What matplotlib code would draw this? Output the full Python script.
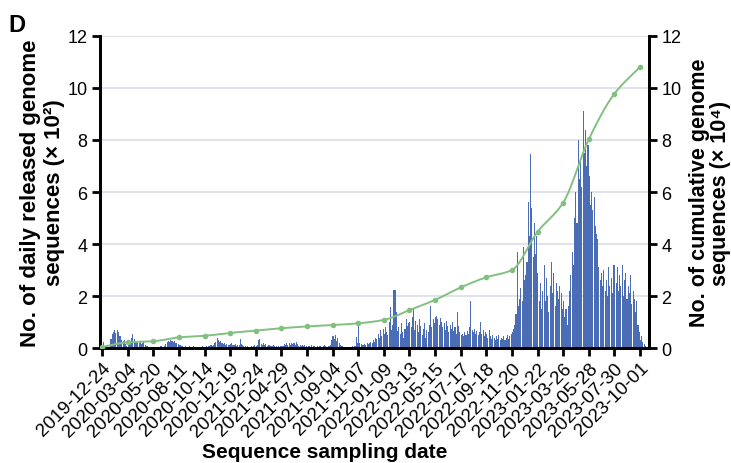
import numpy as np
import matplotlib
matplotlib.use('Agg')
import matplotlib.pyplot as plt

# ---------------- data ----------------
tick_labels = ["2019-12-24", "2020-03-04", "2020-05-20", "2020-08-11", "2020-10-14",
               "2020-12-19", "2021-02-24", "2021-04-29", "2021-07-01", "2021-09-04",
               "2021-11-07", "2022-01-09", "2022-03-13", "2022-05-15", "2022-07-17",
               "2022-09-18", "2022-11-20", "2023-01-22", "2023-03-26", "2023-05-28",
               "2023-07-30", "2023-10-01"]

# cumulative genome sequences (x 10^4) at each labelled date
cumulative_at_ticks = [0.04, 0.22, 0.26, 0.41, 0.47, 0.58, 0.67, 0.76, 0.83, 0.88, 0.95,
                       1.08, 1.46, 1.85, 2.33, 2.72, 3.00, 4.47, 5.59, 8.03, 9.78, 10.81]

# daily released genome sequences (x 10^2), one value per 3-day block
daily_p00 = [0.05, 0.24, 0.03, 0.02, 0.02, 0.05, 0.02, 0.35, 0.55, 0.62, 0.68, 0.58, 0.70, 0.60, 0.45, 0.48, 0.32, 0.28, 0.30, 0.15, 0.08]
daily_p01 = [0.15, 0.30, 0.25, 0.38, 0.52, 0.35, 0.22, 0.28, 0.18, 0.20, 0.25, 0.15, 0.18, 0.22, 0.10, 0.08, 0.06, 0.05, 0.04, 0.05, 0.03]
daily_p02 = [0.03, 0.04, 0.03, 0.05, 0.04, 0.03, 0.06, 0.04, 0.05, 0.08, 0.15, 0.22, 0.28, 0.25, 0.30, 0.26, 0.22, 0.28, 0.20, 0.18, 0.15]
daily_p03 = [0.12, 0.10, 0.08, 0.06, 0.05, 0.08, 0.05, 0.04, 0.06, 0.05, 0.04, 0.05, 0.06, 0.05, 0.04, 0.05, 0.03, 0.04, 0.05, 0.06, 0.05]
daily_p04 = [0.05, 0.06, 0.05, 0.08, 0.06, 0.10, 0.08, 0.12, 0.18, 0.25, 0.38, 0.30, 0.22, 0.28, 0.20, 0.15, 0.18, 0.12, 0.15, 0.10, 0.12]
daily_p05 = [0.15, 0.20, 0.12, 0.10, 0.15, 0.08, 0.10, 0.12, 0.35, 0.15, 0.10, 0.08, 0.06, 0.05, 0.06, 0.05, 0.04, 0.06, 0.05, 0.08, 0.10]
daily_p06 = [0.08, 0.12, 0.30, 0.35, 0.15, 0.10, 0.18, 0.12, 0.15, 0.08, 0.10, 0.12, 0.08, 0.06, 0.10, 0.08, 0.05, 0.06, 0.08, 0.05, 0.06]
daily_p07 = [0.06, 0.08, 0.15, 0.12, 0.20, 0.10, 0.18, 0.12, 0.20, 0.15, 0.18, 0.10, 0.22, 0.14, 0.08, 0.12, 0.06, 0.10, 0.08, 0.12, 0.06]
daily_p08 = [0.05, 0.08, 0.06, 0.10, 0.05, 0.08, 0.06, 0.04, 0.08, 0.05, 0.06, 0.07, 0.05, 0.08, 0.10, 0.06, 0.05, 0.08, 0.06, 0.12, 0.30]
daily_p09 = [0.45, 0.35, 0.50, 0.28, 0.40, 0.20, 0.12, 0.08, 0.06, 0.05, 0.04, 0.05, 0.03, 0.04, 0.05, 0.04, 0.06, 0.05, 0.08, 0.42, 0.20]
daily_p10 = [0.83, 0.20, 0.15, 0.12, 0.10, 0.15, 0.12, 0.18, 0.15, 0.20, 0.25, 0.18, 0.30, 0.25, 0.40, 0.35, 0.55, 0.40, 0.70, 0.45, 0.72]
daily_p11 = [0.55, 0.80, 0.60, 0.50, 1.00, 1.58, 0.70, 0.90, 2.25, 2.22, 1.38, 0.65, 0.80, 0.55, 0.95, 0.60, 0.40, 0.75, 1.10, 0.85, 0.95]
daily_p12 = [1.00, 0.80, 1.20, 1.50, 0.70, 1.05, 0.90, 0.60, 1.10, 0.85, 0.50, 0.75, 0.95, 0.40, 0.70, 0.60, 0.90, 1.63, 0.80, 1.10, 0.95]
daily_p13 = [1.20, 1.25, 1.10, 0.90, 1.15, 1.00, 0.80, 0.95, 0.70, 1.05, 0.85, 0.60, 0.90, 0.75, 1.00, 0.65, 0.80, 0.55, 1.38, 0.85, 0.60]
daily_p14 = [0.50, 0.55, 0.45, 0.60, 0.50, 0.65, 0.55, 0.80, 1.82, 0.70, 0.60, 0.75, 0.55, 0.65, 0.50, 0.60, 1.00, 0.55, 0.70, 0.45, 0.60]
daily_p15 = [0.55, 0.40, 0.70, 0.45, 0.35, 0.50, 0.40, 0.30, 0.45, 0.35, 0.50, 0.30, 0.40, 0.35, 0.45, 0.30, 0.40, 0.50, 0.35, 0.45, 0.55]
daily_p16 = [0.60, 0.75, 0.90, 1.30, 3.70, 1.60, 1.90, 2.30, 1.80, 3.90, 2.60, 2.80, 3.30, 5.60, 4.30, 7.46, 5.40, 3.50, 4.80, 3.60, 4.30]
daily_p17 = [2.90, 1.80, 2.50, 1.50, 2.20, 3.20, 1.80, 2.70, 2.00, 1.40, 2.40, 3.30, 2.10, 2.90, 1.60, 2.50, 2.20, 1.90, 2.40, 2.10, 1.50]
daily_p18 = [1.80, 1.20, 1.50, 0.90, 1.60, 2.20, 2.80, 3.70, 3.20, 5.00, 6.00, 4.80, 8.00, 6.50, 7.30, 6.20, 9.10, 7.50, 8.40, 7.00, 7.80]
daily_p19 = [6.60, 5.50, 6.00, 5.30, 5.80, 4.70, 4.40, 4.20, 3.10, 2.60, 2.90, 2.40, 3.00, 2.20, 2.60, 2.00, 3.10, 2.40, 2.70, 2.10, 3.20]
daily_p20 = [3.20, 2.50, 3.10, 2.20, 2.80, 2.40, 3.20, 2.00, 2.60, 2.90, 1.90, 2.40, 2.10, 2.80, 1.70, 2.20, 1.90, 1.40, 1.80, 0.90, 0.60]
daily_p21 = [0.30, 0.45, 0.25, 0.15, 0.08]

daily_blocks = (daily_p00 + daily_p01 + daily_p02 + daily_p03 + daily_p04 + daily_p05 +
                daily_p06 + daily_p07 + daily_p08 + daily_p09 + daily_p10 + daily_p11 +
                daily_p12 + daily_p13 + daily_p14 + daily_p15 + daily_p16 + daily_p17 +
                daily_p18 + daily_p19 + daily_p20 + daily_p21)

DAYS_PER_BLOCK = 3
TICK_STEP = 63  # sampling days between labelled dates


def monotone_curve(x, y, n=20):
    """Fritsch-Carlson monotone cubic through the points, for a smooth drawn line."""
    x = np.asarray(x, float)
    y = np.asarray(y, float)
    h = np.diff(x)
    d = np.diff(y) / h
    m = np.zeros_like(y)
    m[0], m[-1] = d[0], d[-1]
    for i in range(1, len(y) - 1):
        if d[i - 1] * d[i] <= 0:
            m[i] = 0
        else:
            w1 = 2 * h[i] + h[i - 1]
            w2 = h[i] + 2 * h[i - 1]
            m[i] = (w1 + w2) / (w1 / d[i - 1] + w2 / d[i])
    xs, ys = [], []
    for i in range(len(x) - 1):
        t = np.linspace(0, 1, n, endpoint=False)
        h00 = 2 * t**3 - 3 * t**2 + 1
        h10 = t**3 - 2 * t**2 + t
        h01 = -2 * t**3 + 3 * t**2
        h11 = t**3 - t**2
        xs.append(x[i] + t * h[i])
        ys.append(h00 * y[i] + h10 * h[i] * m[i] + h01 * y[i + 1] + h11 * h[i] * m[i + 1])
    xs.append([x[-1]])
    ys.append([y[-1]])
    return np.concatenate(xs), np.concatenate(ys)


# ---------------- plot ----------------
plt.rcParams['font.family'] = ['Liberation Sans', 'DejaVu Sans']

fig = plt.figure(figsize=(7.31, 4.64), dpi=100)
ax = fig.add_axes([0.1368, 0.2478, 0.7510, 0.6725])

bar_x = np.arange(len(daily_blocks)) * DAYS_PER_BLOCK + 1
ax.bar(bar_x, daily_blocks, width=2.6, color='#4a6db5', linewidth=0, zorder=2)

ax.set_xlim(-5, 1345)
ax.set_ylim(0, 12)
ax.set_yticks(np.arange(0, 13, 2))
ax.grid(axis='y', color='#dde1ea', linewidth=1.3, zorder=0)
ax.set_axisbelow(True)

tick_pos = np.arange(len(tick_labels)) * TICK_STEP
ax.set_xticks(tick_pos)
ax.set_xticklabels(tick_labels, rotation=45, ha='right', rotation_mode='anchor', fontsize=13.5)

for s in ['left', 'bottom', 'right']:
    ax.spines[s].set_linewidth(2)
    ax.spines[s].set_color('black')
ax.spines['top'].set_visible(False)
ax.tick_params(axis='both', which='major', length=6, width=2, labelsize=13, pad=3)
ax.tick_params(axis='x', labelsize=13.5, pad=2)

ax.set_ylabel("No. of daily released genome\nsequences (× 10²)", fontsize=16,
              fontweight='bold', labelpad=2, linespacing=1.15)
ax.set_xlabel("Sequence sampling date", fontsize=15, fontweight='bold')
ax.xaxis.set_label_coords(0.409, -0.30)

ax2 = ax.twinx()
cx, cy = monotone_curve(tick_pos, cumulative_at_ticks)
ax2.plot(cx, cy, color='#82c080', linewidth=1.4, zorder=3)
ax2.plot(tick_pos, cumulative_at_ticks, linestyle='none', marker='o', markersize=4,
         markerfacecolor='#82c080', markeredgewidth=0, zorder=4)
ax2.set_ylim(0, 12)
ax2.set_yticks(np.arange(0, 13, 2))
for s in ['left', 'bottom', 'right']:
    ax2.spines[s].set_linewidth(2)
ax2.spines['top'].set_visible(False)
ax2.tick_params(axis='y', length=6, width=2, labelsize=13, pad=3)
ax2.set_ylabel("No. of cumulative genome\nsequences (× 10⁴)", fontsize=15.5,
               fontweight='bold', labelpad=5, linespacing=1.0)

fig.text(0.012, 0.93, "D", fontsize=17, fontweight='bold')

fig.savefig("out.png", dpi=100)
